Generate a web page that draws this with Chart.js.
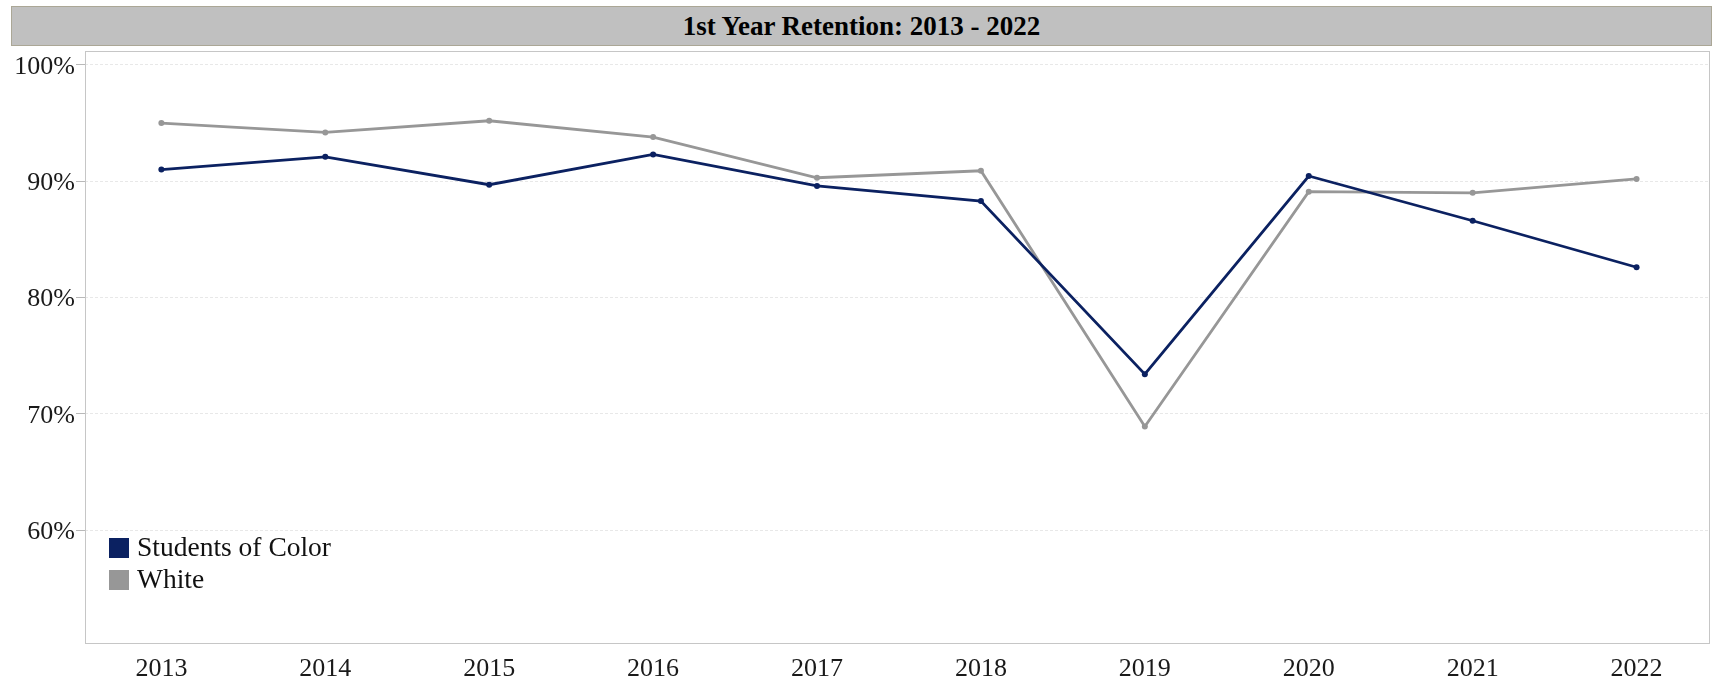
<!DOCTYPE html>
<html>
<head>
<meta charset="utf-8">
<script src="https://cdn.jsdelivr.net/npm/chart.js@4.4.0/dist/chart.umd.min.js"></script>
<style>
  html, body { margin: 0; padding: 0; background: #fff; }
  #wrap { position: relative; width: 1714px; height: 682px; }
  #wrap canvas { position: absolute; left: 0; top: 0; }
  #title {
    position: absolute; left: 11px; top: 6px; width: 1699px; height: 38px;
    background: #c0c0c0; border: 1px solid #aba796;
    font: bold 27px "Liberation Serif", serif; line-height: 39px;
    text-align: center; color: #000;
  }
</style>
</head>
<body>
<div id="wrap">
  <canvas id="retention" width="1714" height="682"></canvas>
  <div id="title">1st Year Retention: 2013 - 2022</div>
</div>
<script>
var years = [2013, 2014, 2015, 2016, 2017, 2018, 2019, 2020, 2021, 2022];
var studentsOfColor = [91.0, 92.1, 89.7, 92.3, 89.6, 88.3, 73.4, 90.45, 86.6, 82.6];
var white = [95.0, 94.2, 95.2, 93.8, 90.3, 90.9, 68.9, 89.1, 89.0, 90.2];
var seriesNames = ['Students of Color', 'White'];
var seriesColors = ['#0b2161', '#979797'];
var yTicks = [60, 70, 80, 90, 100];

var serif = '"Liberation Serif", "Times New Roman", serif';
Chart.defaults.font.family = serif;
Chart.defaults.font.size = 26;
Chart.defaults.color = '#1a1a1a';

function toPoints(values) {
  return values.map(function(v, i) { return { x: years[i], y: v }; });
}

// grey frame round the plot area
var frame = {
  id: 'frame',
  beforeDatasetsDraw: function(chart) {
    var a = chart.chartArea, ctx = chart.ctx;
    ctx.save();
    ctx.strokeStyle = '#c6c6c6';
    ctx.lineWidth = 1;
    ctx.strokeRect(a.left + 0.5, a.top + 0.5, a.width - 1, a.height - 1);
    ctx.restore();
  }
};

// legend sits inside the plot, bottom left
var insideLegend = {
  id: 'insideLegend',
  afterDraw: function(chart) {
    var a = chart.chartArea, ctx = chart.ctx;
    ctx.save();
    chart.data.datasets.forEach(function(ds, i) {
      var top = a.bottom - 106 + i * 32;
      ctx.fillStyle = ds.borderColor;
      ctx.fillRect(a.left + 24, top, 20, 20);
      ctx.fillStyle = '#111';
      ctx.font = '27.5px ' + serif;
      ctx.textBaseline = 'middle';
      ctx.textAlign = 'left';
      ctx.fillText(ds.label, a.left + 52, top + 11);
    });
    ctx.restore();
  }
};

var ctx = document.getElementById('retention').getContext('2d');
var retentionChart = new Chart(ctx, {
  type: 'line',
  data: {
    datasets: [{
      label: seriesNames[0],
      data: toPoints(studentsOfColor),
      borderColor: seriesColors[0],
      backgroundColor: seriesColors[0],
      borderWidth: 2.8,
      pointRadius: 3,
      pointBorderWidth: 0,
      tension: 0
    }, {
      label: seriesNames[1],
      data: toPoints(white),
      borderColor: seriesColors[1],
      backgroundColor: seriesColors[1],
      borderWidth: 2.8,
      pointRadius: 3,
      pointBorderWidth: 0,
      tension: 0
    }]
  },
  options: {
    responsive: false,
    animation: false,
    layout: { padding: { top: 51, right: 3, left: 0, bottom: 0 } },
    plugins: {
      legend: { display: false },
      tooltip: { enabled: false }
    },
    scales: {
      x: {
        type: 'linear',
        min: 2012.534,
        max: 2022.448,
        afterBuildTicks: function(scale) {
          scale.ticks = years.map(function(y) { return { value: y }; });
        },
        afterFit: function(scale) { scale.height = 38; },
        ticks: {
          autoSkip: false,
          maxRotation: 0,
          padding: 2,
          callback: function(v) { return String(v); }
        },
        grid: { display: false },
        border: { display: false }
      },
      y: {
        min: 50.2,
        max: 101.2,
        afterBuildTicks: function(scale) {
          scale.ticks = yTicks.map(function(v) { return { value: v }; });
        },
        afterFit: function(scale) { scale.width = 85; },
        ticks: {
          padding: 1,
          labelOffset: 2,
          callback: function(v) { return v + '%'; }
        },
        grid: {
          color: '#e8e8e8',
          tickColor: '#b9b9b9',
          tickLength: 9,
          tickBorderDash: []
        },
        border: { display: false, dash: [3, 2] }
      }
    }
  },
  plugins: [frame, insideLegend]
});
</script>
</body>
</html>
